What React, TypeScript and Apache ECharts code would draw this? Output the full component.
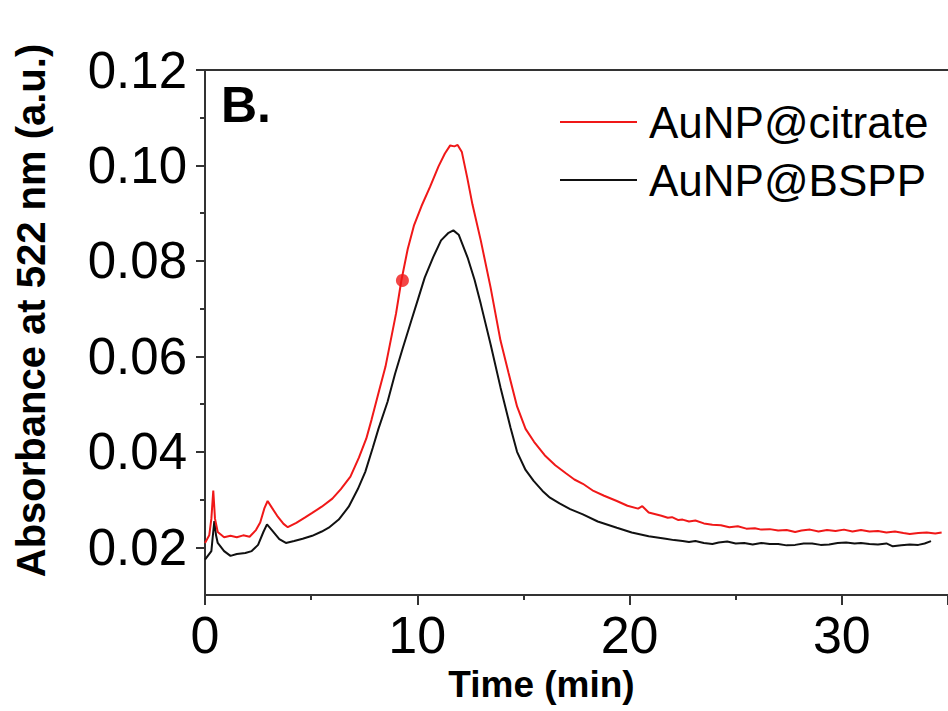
import React, { useEffect, useRef } from "react";
import * as echarts from "echarts";

// Time (min) and absorbance readings, AuNP@citrate (red)
const citrateTime = [0, 0.2, 0.3, 0.39, 0.47, 0.6, 0.9, 1.2, 1.5, 1.8, 2.1, 2.4, 2.6, 2.8, 2.95, 3.15, 3.4, 3.7, 3.9, 4.3, 4.7, 5.05, 5.5, 6.0, 6.4, 6.85, 7.25, 7.6, 7.85, 8.2, 8.5, 8.8, 9.0, 9.25, 9.55, 9.85, 10.2, 10.6, 11.0, 11.3, 11.55, 11.75, 11.9, 12.1, 12.35, 12.6, 12.99, 13.45, 13.92, 14.3, 14.7, 15.1, 15.5, 16.0, 16.5, 17.0, 17.4, 17.8, 18.3, 18.8, 19.4, 19.9, 20.4, 20.6, 20.9, 21.5, 21.8, 22.0, 22.3, 22.5, 22.8, 23.1, 23.5, 23.9, 24.3, 24.7, 25.1, 25.5, 25.9, 26.2, 26.6, 27.0, 27.4, 27.8, 28.1, 28.5, 28.9, 29.3, 29.7, 30.1, 30.5, 30.9, 31.3, 31.7, 32.1, 32.5, 32.9, 33.2, 33.6, 34.0, 34.4, 34.7];
const citrateAbs = [0.0209, 0.0225, 0.026, 0.0319, 0.026, 0.0232, 0.0221, 0.0224, 0.0221, 0.0225, 0.0222, 0.0236, 0.0252, 0.0282, 0.0297, 0.0283, 0.0266, 0.0249, 0.0242, 0.0251, 0.0262, 0.0272, 0.0285, 0.0302, 0.0322, 0.0348, 0.0388, 0.0428, 0.0468, 0.0528, 0.0578, 0.0645, 0.069, 0.0759, 0.0825, 0.0875, 0.0915, 0.0955, 0.0998, 0.1025, 0.1042, 0.104, 0.1043, 0.1028, 0.0975, 0.0918, 0.0843, 0.0745, 0.0633, 0.0565, 0.0495, 0.0448, 0.0421, 0.0393, 0.0372, 0.0355, 0.0342, 0.0333, 0.0318, 0.0308, 0.0297, 0.0287, 0.0281, 0.0286, 0.0273, 0.0266, 0.0262, 0.0263, 0.0257, 0.0258, 0.0254, 0.0256, 0.025, 0.0247, 0.0246, 0.0242, 0.0244, 0.0239, 0.024, 0.0237, 0.0238, 0.0235, 0.0236, 0.0232, 0.0235, 0.0237, 0.0233, 0.0236, 0.0234, 0.0237, 0.0233, 0.0236, 0.0233, 0.0234, 0.0231, 0.0233, 0.023, 0.0228, 0.023, 0.0231, 0.0229, 0.0231];

// AuNP@BSPP (black)
const bsppTime = [0, 0.3, 0.36, 0.44, 0.52, 0.6, 0.9, 1.2, 1.5, 1.9, 2.2, 2.5, 2.75, 2.92, 3.15, 3.5, 3.81, 4.2, 4.6, 5.05, 5.5, 5.83, 6.3, 6.77, 7.2, 7.55, 7.9, 8.17, 8.6, 8.95, 9.3, 9.72, 10.05, 10.35, 10.75, 11.12, 11.45, 11.7, 11.95, 12.37, 12.7, 12.99, 13.45, 13.92, 14.39, 14.7, 15.1, 15.48, 15.9, 16.25, 16.7, 17.2, 17.8, 18.5, 19.4, 20.1, 20.9, 21.7, 22.1, 22.5, 22.8, 23.1, 23.5, 23.9, 24.2, 24.6, 25.0, 25.4, 25.8, 26.2, 26.6, 27.0, 27.4, 27.8, 28.2, 28.6, 29.0, 29.4, 29.8, 30.2, 30.6, 30.9, 31.3, 31.7, 32.1, 32.4, 32.8, 33.2, 33.6, 33.9, 34.2];
const bsppAbs = [0.0174, 0.0192, 0.022, 0.0255, 0.0225, 0.0209, 0.0192, 0.0182, 0.0186, 0.0188, 0.0192, 0.0205, 0.0232, 0.0248, 0.0236, 0.0217, 0.0209, 0.0213, 0.0218, 0.0224, 0.0233, 0.0241, 0.0258, 0.0285, 0.0322, 0.0358, 0.0408, 0.0448, 0.0505, 0.0563, 0.0615, 0.0675, 0.0722, 0.0765, 0.0808, 0.0843, 0.0858, 0.0864, 0.0855, 0.0807, 0.076, 0.071, 0.0626, 0.0535, 0.0451, 0.04, 0.0362, 0.0339, 0.0318, 0.0304, 0.0292, 0.028, 0.0269, 0.0254, 0.0241, 0.0231, 0.0223, 0.0218, 0.0215, 0.0213, 0.0211, 0.0213, 0.0209, 0.0207, 0.021, 0.0212, 0.0208, 0.0209, 0.0206, 0.0209, 0.0207, 0.0207, 0.0204, 0.0205, 0.0208, 0.0208, 0.0205, 0.0206, 0.0209, 0.021, 0.0208, 0.0209, 0.0207, 0.0206, 0.0208, 0.0202, 0.0204, 0.0206, 0.0205, 0.0208, 0.0213];

// Highlighted point on the citrate curve
const markerPoint = [9.3, 0.0759];

const seriesNames = ["AuNP@citrate", "AuNP@BSPP"];
const yMajorTicks = [0.02, 0.04, 0.06, 0.08, 0.1, 0.12];
const yMinorTicks = [0.03, 0.05, 0.07, 0.09, 0.11];
const xTicks = [0, 10, 20, 30];

const FONT = "'Liberation Sans', Arial, sans-serif";
const AXIS_COLOR = "#333";

export default function App() {
  const ref = useRef<HTMLDivElement>(null);
  useEffect(() => {
    if (!ref.current) return;
    const chart = echarts.init(ref.current, null, { renderer: "svg" });
    const zip = (xs: number[], ys: number[]) => xs.map((x, i) => [x, ys[i]]);
    chart.setOption({
      animation: false,
      backgroundColor: "#fff",
      grid: { left: 205, top: 70, right: -7, bottom: 116 },
      legend: {
        data: seriesNames,
        orient: "vertical",
        left: 555,
        top: 95,
        icon: "rect",
        itemWidth: 77,
        itemHeight: 2,
        itemGap: 14,
        textStyle: { fontFamily: FONT, fontSize: 44, lineHeight: 44, color: "#000", padding: [0, 0, 0, 7] },
      },
      graphic: [
        {
          type: "text",
          x: 221,
          y: 80,
          style: { text: "B.", fontFamily: FONT, fontSize: 50, fontWeight: "bold", fill: "#000", verticalAlign: "top" },
        },
      ],
      xAxis: [
        {
          type: "value",
          min: 0,
          max: 35,
          interval: 10,
          name: "Time (min)",
          nameLocation: "middle",
          nameGap: 70,
          nameTextStyle: { fontFamily: FONT, fontSize: 37, fontWeight: "bold", color: "#000", padding: [0, 70, 0, 0] },
          axisLine: { show: true, onZero: false, lineStyle: { color: AXIS_COLOR, width: 2 } },
          axisTick: { show: true, inside: false, length: 10, lineStyle: { color: AXIS_COLOR, width: 2 } },
          minorTick: { show: true, splitNumber: 2, length: 5, lineStyle: { color: AXIS_COLOR, width: 2 } },
          axisLabel: {
            customValues: xTicks,
            margin: 14,
            fontFamily: FONT,
            fontSize: 52,
            color: "#000",
          },
          splitLine: { show: false },
        },
        {
          type: "value",
          position: "top",
          min: 0,
          max: 35,
          axisLine: { show: true, onZero: false, lineStyle: { color: AXIS_COLOR, width: 2 } },
          axisTick: { show: false },
          axisLabel: { show: false },
          splitLine: { show: false },
        },
      ],
      yAxis: [
        {
          type: "value",
          min: 0.01,
          max: 0.12,
          name: "Absorbance at 522 nm (a.u.)",
          nameLocation: "middle",
          nameGap: 154,
          nameTextStyle: { fontFamily: FONT, fontSize: 40, fontWeight: "bold", color: "#000", padding: [0, 0, 0, 44] },
          axisLine: { show: true, onZero: false, lineStyle: { color: AXIS_COLOR, width: 2 } },
          axisTick: { show: true, customValues: yMajorTicks, length: 9, lineStyle: { color: AXIS_COLOR, width: 2 } },
          axisLabel: {
            customValues: yMajorTicks,
            margin: 18,
            fontFamily: FONT,
            fontSize: 51,
            color: "#000",
            formatter: (v: number) => v.toFixed(2),
          },
          splitLine: { show: false },
        },
        {
          type: "value",
          min: 0.01,
          max: 0.12,
          position: "left",
          axisLine: { show: false },
          axisTick: { show: true, customValues: yMinorTicks, length: 5, lineStyle: { color: AXIS_COLOR, width: 2 } },
          axisLabel: { show: false },
          splitLine: { show: false },
        },
      ],
      series: [
        {
          name: seriesNames[0],
          type: "line",
          data: zip(citrateTime, citrateAbs),
          showSymbol: false,
          symbol: "none",
          lineStyle: { color: "#f01818", width: 2 },
          itemStyle: { color: "#f01818" },
          z: 3,
        },
        {
          name: seriesNames[1],
          type: "line",
          data: zip(bsppTime, bsppAbs),
          showSymbol: false,
          symbol: "none",
          lineStyle: { color: "#111", width: 2 },
          itemStyle: { color: "#111" },
          z: 2,
        },
        {
          name: "marker",
          type: "scatter",
          data: [markerPoint],
          symbolSize: 13,
          itemStyle: { color: "#f01818" },
          z: 4,
        },
      ],
    });
    return () => chart.dispose();
  }, []);
  return (
    <div
      ref={ref}
      style={{ position: "absolute", left: 0, top: 0, width: 948, height: 711, background: "#fff" }}
    />
  );
}
